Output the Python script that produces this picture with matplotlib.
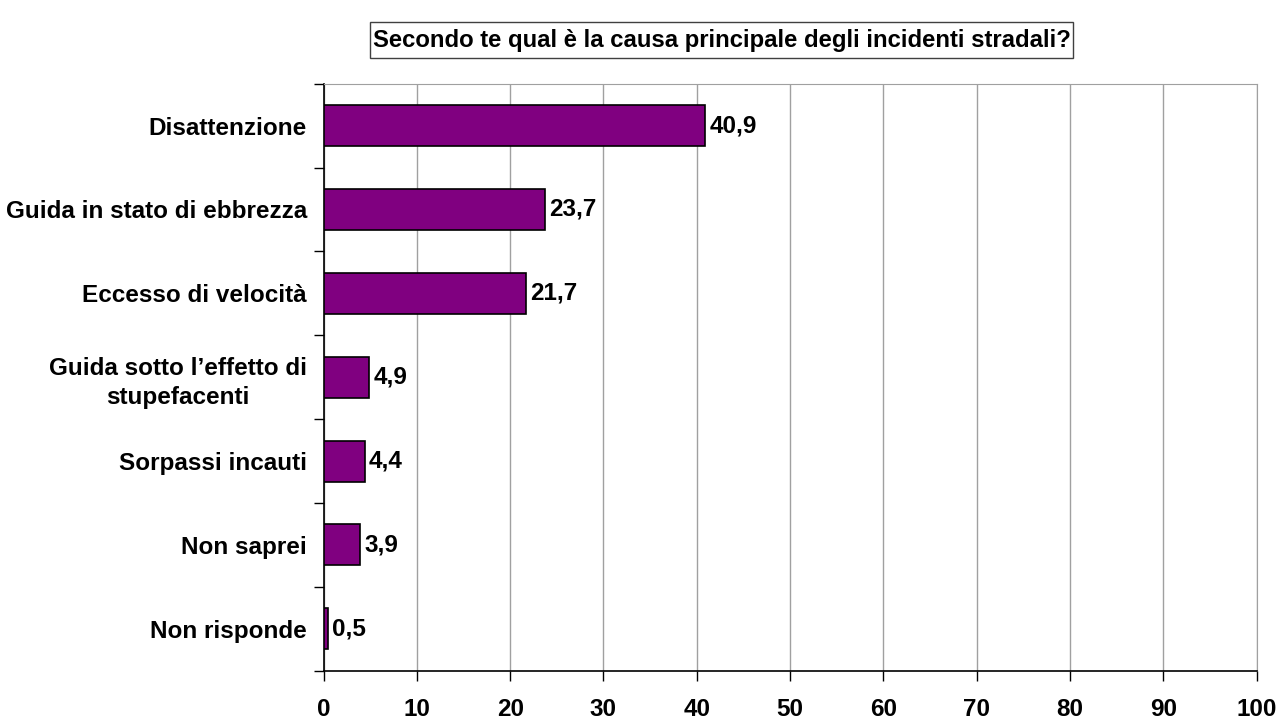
import matplotlib
matplotlib.use("Agg")
import matplotlib.pyplot as plt
from matplotlib.patches import Rectangle

categories = [
    "Disattenzione",
    "Guida in stato di ebbrezza",
    "Eccesso di velocità",
    "Guida sotto l\u2019effetto di\nstupefacenti",
    "Sorpassi incauti",
    "Non saprei",
    "Non risponde",
]
values = [40.9, 23.7, 21.7, 4.9, 4.4, 3.9, 0.5]
value_labels = ["40,9", "23,7", "21,7", "4,9", "4,4", "3,9", "0,5"]
x_ticks = [0, 10, 20, 30, 40, 50, 60, 70, 80, 90, 100]
title = "Secondo te qual è la causa principale degli incidenti stradali?"

plt.rcParams["font.family"] = ["Liberation Sans", "DejaVu Sans"]
plt.rcParams["font.weight"] = "bold"

FS = 17.5
W, H = 1278, 722
fig = plt.figure(figsize=(W / 100, H / 100), dpi=100)
ax = fig.add_axes([323.5 / W, 1 - 670.7 / H, (1256.7 - 323.5) / W, (670.7 - 83.7) / H])

n = len(categories)
pos = list(range(n))
ax.barh(pos, values, height=0.49, color="#800080", edgecolor="black", linewidth=1.2, zorder=3)
for p, v, lab in zip(pos, values, value_labels):
    ax.annotate(lab, (v, p), xytext=(3, 0), textcoords="offset points",
                va="center", ha="left", fontsize=FS, fontweight="bold", zorder=4)

ax.set_xlim(0, 100)
ax.set_ylim(n - 0.5, -0.5)
ax.set_xticks(x_ticks)
ax.set_xticklabels([str(t) for t in x_ticks], fontsize=FS, fontweight="bold")
ax.set_yticks(pos)
ax.set_yticklabels(categories, fontsize=FS, fontweight="bold", multialignment="center",
                   linespacing=1.35)
ax.tick_params(axis="y", length=0, pad=12)
ax.set_yticks([i - 0.5 for i in range(n + 1)], minor=True)
ax.tick_params(axis="y", which="minor", length=7, width=1, direction="out")
ax.tick_params(axis="x", length=7, width=1, direction="out", pad=13)

ax.grid(axis="x", color="#a0a0a0", linewidth=1, zorder=0)
for side in ("top", "right"):
    ax.spines[side].set_color("#a0a0a0")
for side in ("left", "bottom"):
    ax.spines[side].set_color("black")
    ax.spines[side].set_linewidth(1.2)

# boxed title
fig.patches.append(Rectangle((370 / W, 1 - 58 / H), (1073 - 370) / W, 36 / H,
                             transform=fig.transFigure, facecolor="white",
                             edgecolor="#404040", linewidth=1))
fig.text(721.5 / W, 1 - 40 / H, title, ha="center", va="center", fontsize=17.2,
         fontweight="bold")

fig.savefig("out.png", dpi=100)
